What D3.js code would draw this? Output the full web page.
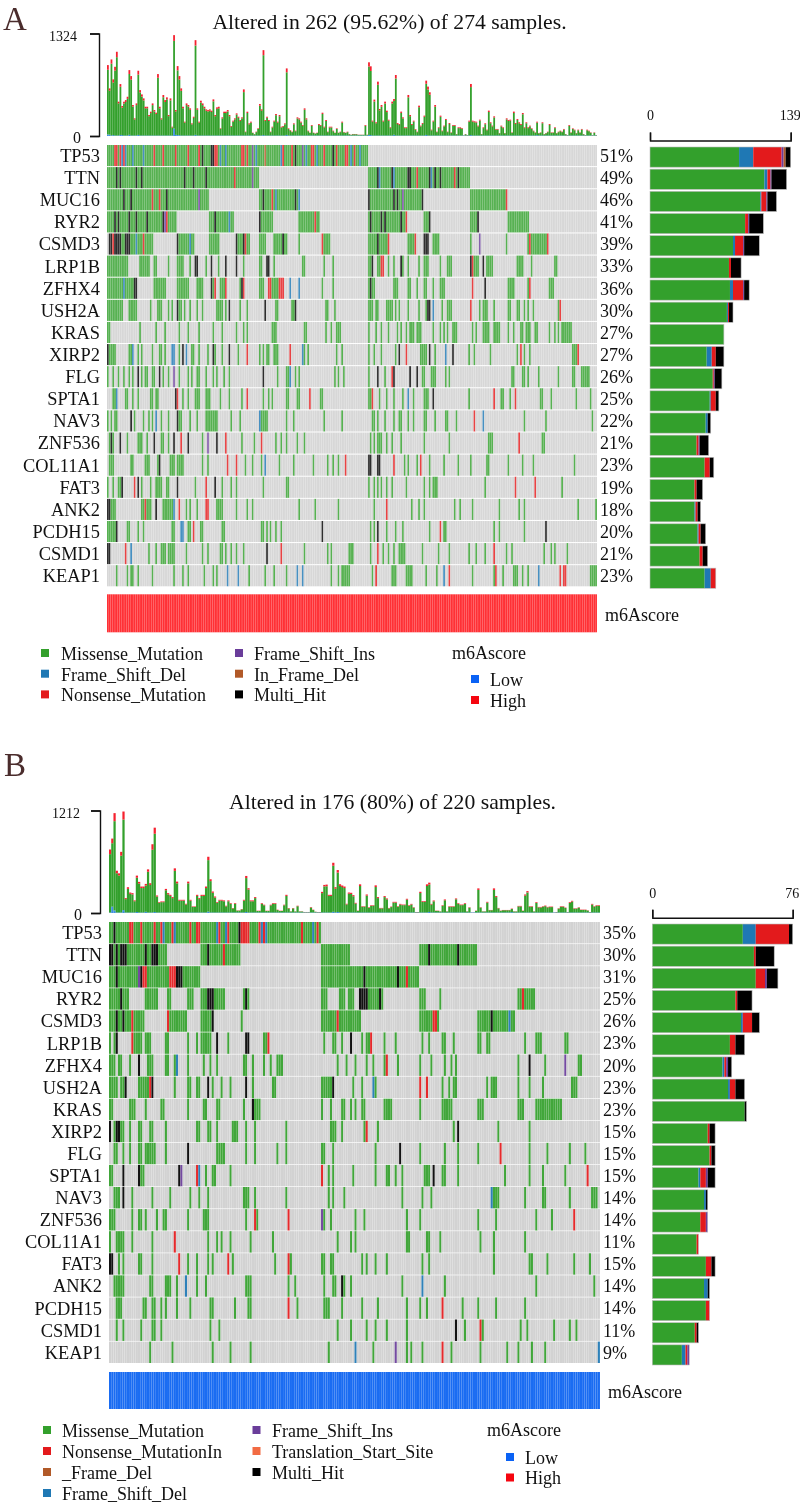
<!DOCTYPE html>
<html><head><meta charset="utf-8">
<script src="https://cdn.jsdelivr.net/npm/d3@7/dist/d3.min.js"></script>
<style>html,body{margin:0;padding:0;background:#fff}svg{display:block;filter:blur(0.45px)}text{font-family:"Liberation Serif",serif;fill:#111}</style>
</head><body><svg id="c" width="800" height="1503"></svg>
<script>
const genes=["TP53","TTN","MUC16","RYR2","CSMD3","LRP1B","ZFHX4","USH2A","KRAS","XIRP2","FLG","SPTA1","NAV3","ZNF536","COL11A1","FAT3","ANK2","PCDH15","CSMD1","KEAP1"];
const typeOrder=["M","D","N","I","F","T","H"];
const typeColors={M:"#33a02c",D:"#1f78b4",N:"#e31a1c",I:"#6a3d9a",F:"#b15928",T:"#f26b43",H:"#000000"};

// Panel A
const pctA=[51,49,46,41,39,33,36,30,27,27,26,25,22,21,23,19,18,20,21,23];
const totalA=[916,615,989,731,894,1088,443,671,387,443,464,507,851,774,400,228,421,843,593,537,
486,378,378,271,314,421,335,301,800,378,228,529,464,499,271,486,120,1303,335,903,
774,615,378,185,421,400,357,163,249,1238,357,185,456,421,378,344,335,344,327,473,
271,370,378,99,241,314,314,335,271,129,198,228,292,249,206,241,602,56,314,163,
185,43,26,56,99,413,344,1109,206,249,206,56,120,198,284,185,271,120,129,163,
873,99,77,56,163,69,241,228,185,142,357,228,69,43,142,43,34,43,155,142,
301,120,206,56,120,120,69,43,99,43,56,185,52,43,56,26,17,26,26,26,
17,17,17,17,142,17,
952,900,198,470,177,702,349,400,198,444,327,210,112,444,478,788,168,155,315,241,
112,112,530,271,155,198,90,56,392,134,168,263,715,638,565,82,198,400,56,112,
263,69,134,220,56,168,47,142,142,26,112,112,103,10,26,13,198,672,198,190,
185,134,211,26,112,164,82,328,177,134,254,91,91,39,134,112,39,228,207,211,
47,315,168,220,177,155,297,112,177,112,134,99,69,47,185,39,47,177,26,39,
56,155,47,47,112,39,56,69,56,91,26,13,142,47,99,82,39,82,47,91,
26,13,82,69,47,13,47,13];
const capA=[60,30,55,40,50,70,22,35,20,24,25,28,50,45,20,14,22,50,30,28,
26,20,20,15,18,22,18,16,48,20,14,28,25,26,15,26,10,75,18,55,
45,32,20,12,22,20,18,12,15,70,18,12,24,22,20,18,18,18,17,25,
15,20,20,8,14,17,17,18,15,10,12,14,16,14,12,14,35,6,17,12,
12,4,3,6,8,22,18,65,12,14,12,6,10,12,15,12,15,10,10,12,
50,8,7,6,12,7,14,14,12,10,18,14,7,4,10,4,4,4,12,10,
16,10,12,6,10,10,7,4,8,4,6,12,5,4,6,3,2,3,3,3,
2,2,2,2,10,2,
55,60,12,25,12,40,18,22,12,24,18,12,10,24,26,45,12,12,17,14,
10,10,30,15,12,12,8,6,20,10,12,15,40,38,32,8,12,22,6,10,
15,7,10,12,6,12,5,10,10,3,10,10,9,2,3,2,12,40,12,12,
12,10,12,3,10,12,8,18,12,10,15,8,8,4,10,10,4,14,12,12,
5,18,12,12,12,12,16,10,12,10,10,8,7,5,12,4,5,12,3,4,
6,12,5,5,10,4,6,7,6,8,3,2,10,5,8,8,4,8,5,8,
3,2,8,7,5,2,5,2];
const baseSamplesA=[0,1,3,7,8,12,17,37,38,39,40,49,87,100,146,147,160,178,203,240];
const baseValuesA=[20,18,12,14,12,15,14,95,15,12,10,15,12,14,14,12,16,14,12,10];
const sideA=[[88,14,28,2,2,0,5],[113,3,3,1,0,0,15],[109,1,5,1,0,0,9],[94,0,3,1,0,0,14],[82,2,8,1,0,0,15],[78,0,2,0,0,0,10],[79,3,10,1,0,0,5],[76,1,1,0,0,0,4],[73,0,0,0,0,0,0],[56,5,4,0,0,0,8],[62,0,1,1,0,0,7],[59,1,5,0,0,0,3],[55,2,0,0,0,0,3],[46,0,2,1,0,0,9],[54,0,5,0,0,0,4],[44,0,2,0,0,0,6],[44,1,2,0,0,0,3],[47,1,2,0,0,0,5],[49,0,3,0,0,0,5],[54,6,5,0,0,0,0]];
const cellsA=[
"M 0-145 N 4-5 7 D 8 N 9 D 10 14 20 N 26 31 38 45 51 H 53 58-59 N 60-61 D 63 66 N 75-76 78 I 81 D 83 F 88 D 97 N 98 103 H 105 I 109 D 111 N 114-115 D 117 N 121 H 126 N 128 133-134 D 136 N 138 D 141",
"M 0-84 146-202 H 5 7 16 19 43 48 55 N 71 I 81 H 151 D 152 H 159 D 160 H 168-169 N 173 H 180 D 181 H 183 186 N 194 H 196",
"M 0-56 85-107 146-176 203-223 H 9 13 N 25 29 H 33 I 51 H 87 N 92 D 94 H 105 D 107 H 146 160 162 I 165 H 176 N 223",
"M 0-38 57-70 85-92 107-118 146-167 177-180 203-207 224-235 H 4 6 12 16 22 31 I 32 N 33 H 60 D 68 H 85 N 116 H 147 153 155 164 N 167 H 180 207",
"M 1-25 39-48 57-62 72-79 85-88 93-100 107 121-124 146-157 168-172 177-179 182-185 203 208 223 235-246 H 1-2 N 3 H 4-7 10-12 D 16 N 20 H 39 D 46 H 72 76 N 77 H 98 N 120 H 151 N 157 172 H 177-179 I 208 N 236 246",
"M 0-11 18-23 26-27 34 39-42 46 49-50 55 58 62 66 72 76 85-86 89-90 93 109-110 121 126 146-148 151-153 157 160 164-165 168 174 177-179 186 190-192 203-207 212-215 229-232 237 250-251 H 49-50 58 66 72 89-90 148 164 203 210 N 153-154 204",
"M 0-16 26-32 39-45 50-53 58-59 63-65 74-75 85-87 90-98 120 126 146-149 160-162 168-169 173 177-178 182 186-188 204 224-227 235-236 247-249 D 9 H 15-16 58 N 60 66 H 75 N 76 90-91 96-98 D 102 107 H 147 N 204 H 211 N 236",
"M 0-8 12-16 24 28-30 34 36 39-41 43 46 50 53 61-64 66 74 78 94-95 103-104 122-123 127 146-148 150-151 156-159 161 163 168 174 178-180 182 187 190-192 208 210-212 216 224-225 229-230 233 235 238 252 H 39 68 88 105 179-180 D 182 N 203 253",
"M 0-1 18 27 32 40 45 51 59 64 72 76 78 92-94 110-111 122 125 128-130 146 150 153 157 162 164 167 169-171 173-175 182 186 188 190 193-195 204 206 210-213 216-219 224 227 231-232 234-236 239-240 247 250 252 254-259",
"M 1-4 12-13 17 19 25 29-30 32 36-37 40 47-48 51 56 60 64 73 85 87 89-90 93-95 109-110 112 128 131 146 149 153 161 175-178 183 202 205 214 229 233 236 260-263 H 0 D 14 36-37 H 42 D 44 H 59 68 N 78 102 D 109 H 163 N 167 H 180 D 189 H 193 N 231 263",
"M 0 3 6 9 12 14 19 21-22 25-26 31 34 40 45 47 50-51 55 59 61 65 68 95 100-102 105 107 127 129 132 146 155 176-177 181-182 183 189 191 226-227 232-233 235 241 252 260-261 265-269 H 17 29 I 37 H 87 D 102 H 151 N 159 H 160 169 173",
"M 3-5 10-11 14 17 24-25 27-28 42 45 49-51 55-57 63 68 75 87 90 92 100-101 106-107 119-120 146-147 152 156 160 165 171 177-179 202 220-221 225 242-243 248 262 270 H 38 N 39 D 5 N 78 113 148 D 168 H 182 N 216 228",
"M 0 2 4-5 13 15 20 23 25 30 34 39-41 46 50 55-61 69 74 85-89 100 104 121 131 148-149 151 155 160 163-164 168 171 177-178 183 189-190 195 233 245 271 H 13 39 D 27 85 N 205 D 210",
"M 1-3 11 17-19 22 30-31 34 53 75 82 94 97 100 106 110 147 149 151-153 156 159 164 177 191 213-215 243-244 H 2 7 26 37 N 41 H 45 I 56 H 61 N 66 86 230",
"M 1-3 13-14 21-23 28-29 35-37 39-42 53 56 77 81 86 96 104 115 123 126 129 160 166 168 173 180 188 196 203 212-213 224 232 238 261 H 29 N 67 72 D 88 N 133 H 146-147 151-152 N 160 175",
"M 0 3 6-8 19 24 27-30 33-34 49 64 69 72 87 100-101 146 149 151 153 156 159 167 177 180 182-184 211 254 H 8 N 15 H 17 39 N 55 H 60 N 228 239",
"M 0-3 4 19-24 27 31-32 33-37 44 46 50 61-64 72 78 81 107 116 129 149 170 174 177 194 197 204 219 230 233 263 273 H 0-1 N 21 H 27 D 37 N 40 55-56 156",
"M 0-4 11-12 17 20 36-37 45-46 52-53 64-65 86-87 89 91 94 97 147 149 151 156 161 165 180 188-189 216 219 233 H 5 D 41-42 N 48 H 120 151 N 186 H 245",
"M 23 27 30-32 34-37 44 53 56 63-64 66 69 72 76 110 123 125 135-137 147 154 157 160 163-166 176 185 191 202 206 211 223 226 244 248 250 257 H 0-1 N 10 D 13 H 89 N 97 151 216",
"M 5 11 13 14 17 25 37 42 45 54 59 61 79 88 93 100 125 129 131-135 148 159-161 167-170 178 184 204 216 221 227-229 232 235 270-273 D 67 73 106 109 N 150 D 188 N 191 217 D 241 N 253 255-256"];

// Panel B
const pctB=[35,30,31,25,26,23,20,23,23,15,15,15,14,14,11,15,14,14,11,9];
const totalB=[751,880,1181,500,469,723,1200,176,305,242,235,149,442,368,313,313,344,516,352,813,
1009,207,129,137,137,285,235,215,188,528,371,156,156,156,109,371,156,78,78,215,
176,215,215,313,665,399,254,195,129,156,156,149,86,149,117,59,117,31,31,47,
156,438,293,149,149,188,27,27,117,98,27,27,98,117,117,39,27,27,98,215,
59,20,59,20,86,20,20,12,12,12,70,39,16,12,12,250,332,336,215,215,
594,305,508,340,325,313,109,242,
239,211,120,28,339,80,80,219,68,92,92,327,188,60,60,200,172,60,76,132,
132,80,108,100,100,168,92,108,68,12,12,251,140,140,339,359,108,148,28,28,
20,92,160,20,80,80,80,172,116,100,100,116,20,68,8,8,28,291,68,20,
20,132,36,36,291,200,60,28,36,36,36,36,52,20,20,84,84,28,219,259,
80,80,20,128,72,72,80,88,72,76,76,8,12,56,80,80,64,12,128,144,
56,56,68,40,40,40,32,12,108,80,92,92];
const capB=[55,55,95,30,25,45,95,12,20,15,15,10,25,20,18,18,20,28,20,65,
72,12,8,9,9,16,14,13,12,30,20,10,10,10,8,20,10,6,6,13,
11,13,13,18,40,22,15,12,9,10,10,10,7,10,8,5,8,3,3,4,
10,25,16,10,10,12,3,3,8,7,3,3,7,8,8,4,3,3,7,13,
5,2,5,2,6,2,2,2,2,2,6,4,2,2,2,15,18,20,12,13,
35,18,30,20,18,18,8,14,
14,13,8,3,20,6,6,14,6,7,7,20,12,5,5,12,10,5,6,9,
9,6,8,7,7,10,7,8,5,2,2,15,9,9,20,22,8,10,3,3,
2,7,10,2,6,6,6,10,8,7,7,8,2,5,1,1,3,18,5,2,
2,9,3,3,18,12,5,3,3,3,3,3,5,2,2,6,6,3,14,16,
6,6,2,9,6,6,6,7,6,6,6,1,2,5,6,6,5,2,9,9,
5,5,5,4,4,4,3,2,8,6,7,7];
const baseSamplesB=[1,2,6,12,16,20,44,61,100,102,143,180];
const baseValuesB=[75,30,35,12,14,12,16,12,14,12,12,10];
const sideB=[[49,7,18,0,0,0,2],[55,0,1,0,0,0,10],[56,0,5,1,0,0,6],[45,0,1,0,0,0,8],[48,1,5,0,0,0,4],[42,0,3,0,0,0,5],[38,1,1,1,0,0,2],[41,1,3,0,0,0,5],[50,0,0,0,0,0,1],[30,0,1,0,0,0,3],[31,0,1,0,0,0,2],[25,1,3,1,0,0,4],[28,1,0,0,0,0,1],[26,0,3,1,0,0,0],[24,0,1,0,0,0,0],[29,0,3,0,0,0,2],[28,2,0,0,0,0,1],[29,0,2,0,0,0,0],[23,0,1,0,0,0,1],[16,2,1,1,0,0,0]];
const cellsB=[
"M 0-94 H 2 N 9-10 14 20 23 D 24 N 28 D 29 N 36 39-40 D 48 N 49 D 52 N 53 H 58 N 59-62 67 D 68 N 69 D 70 N 86 D 91 N 93",
"M 0-25 41-58 95-107 139-164 H 0-1 3 5-7 16 19-21 44 N 51 H 143 156",
"M 0-40 95-138 H 3 I 13 H 14 N 15-16 27-29 H 30-32 114 129 N 133",
"M 0-8 16-21 26-27 35-37 41-46 47-51 60-62 95-97 103-105 107-109 112-122 139-141 148 183-190 H 5 44-46 61 112-115 121 N 185",
"M 0-15 26-34 41-46 59 95-101 103-112 139-147 165-181 H 3 6 N 10 26 H 46 N 102 145-146 H 171 D 179",
"M 0 2-3 10-14 16-18 25-26 35 39 41-45 53 61-62 69-71 96 100-101 104 113 115-116 123 128 140 143 149-150 154 165-166 169-170 186 191-193 204-205 H 3 48 61-62 108 N 10 71 117",
"M 0-2 4-5 9 17-19 25-26 29-30 35 42 45 48 60-61 64 69 72 75-77 102 106 110 115 118 123-124 129 139 144 150 153 155 183 195 210-211 H 13 D 30 N 124 H 188 I 204",
"M 0-3 5-7 13-19 29 35-36 39-40 46 50 54 64 73-74 95-99 109 113 119 149 152 154-155 169 171-173 183 188 194 207-209 H 7 19 44 61 100 N 18 D 118 N 139 142",
"M 0-1 9-11 16 23-24 35 42-43 48-49 60 65-67 95 99 104-105 108 110 113-114 123-126 139 149-153 165-167 183-185 191-202 H 64",
"M 2 5-6 9 13-14 18-19 25 39-40 44-45 48 55-57 61 65 79 99-101 104 114 120 154 174 188 H 0 3-4 156 N 115",
"M 2-3 6 9 13-14 16-20 25 48-51 61 65 75 79 95-96 100 119 139 150 156 165 188 196 206 213 H 35 130 N 175",
"M 0-1 13-15 43 46-47 54 98 100 109 119 124-125 128 131 141-143 149-150 156 177 188 194 204 H 6 13 31 I 32 N 39 D 40 N 95 H 145 N 214",
"M 2-4 10 19 27 36 40 44 60-62 65 79 98 100 105 131 140 144 172-174 186 194-195 206 216-218 H 6 D 171",
"M 0-2 10 13-14 16 21 24-25 35 42-44 61 66 96 99 110 114 133 139 165 173 191 198 N 65 80 I 95 N 208",
"M 0 3-6 10 19 44 48 50 54 63 73 102 108 110 133-134 142-143 148 166 172 186 N 29",
"M 4 6 13-14 19 35 39 44 46 55 74 81 95-96 99-100 113 115 119 124 140 143 172 188-189 196 208 215 H 0-1 N 31 53 80",
"M 2-6 18-19 25-27 30 39 43 61-63 80 83 96 100-101 104-105 108 131 150 191 217 D 34 140 H 104",
"M 3-5 15-16 19-20 23 25 30 36 45-46 56 62-63 84 96-98 104 113 120 133 139 142 158 165 173 186 N 80 149",
"M 3 6 14 19-20 23 45 49 102 108 115 119 124 133 159 167 184 187 199 206 209 H 155 N 166",
"M 18 28 46 54 63 98 118 133 135 140 153 166 178 183 189 195 D 110 I 128 N 149 D 219"];

const legendNamesA=[["Missense_Mutation","M"],["Frame_Shift_Del","D"],["Nonsense_Mutation","N"],["Frame_Shift_Ins","I"],["In_Frame_Del","F"],["Multi_Hit","H"]];
const legendNamesB=[["Missense_Mutation","M"],["Nonsense_MutationIn","N"],["_Frame_Del","F"],["Frame_Shift_Del","D"],["Frame_Shift_Ins","I"],["Translation_Start_Site","T"],["Multi_Hit","H"]];
const scoreLegend=[["Low","#0a62f5"],["High","#f5050f"]];

const svg=d3.select("#c");

function parseCells(s){
  const cells=new Map();let t="M";
  s.split(" ").forEach(tok=>{
    if(/^[A-Z]$/.test(tok)){t=tok;return;}
    const [a,b]=tok.split("-").map(Number);
    d3.range(a,(b===undefined?a:b)+1).forEach(i=>cells.set(i,t));
  });
  return cells;
}

function panel(c){
  const g=svg.append("g");
  g.append("text").attr("x",c.letterX).attr("y",c.letterY).attr("font-size",33).style("fill","#4a2c2c").text(c.letter);
  g.append("text").attr("x",c.titleX).attr("y",c.titleY).attr("text-anchor","middle").attr("font-size",21.7).text(c.title);

  const x=d3.scaleBand().domain(d3.range(c.n)).range([c.x0,c.x1]);
  const step=x.step();
  // top stacked bars
  const y=d3.scaleLinear().domain([0,c.maxTop]).range([c.topBase,c.topTop]);
  const base=new Map(c.baseSamples.map((s,i)=>[s,c.baseValues[i]]));
  const top=g.append("g");
  d3.range(c.n).forEach(i=>{
    const tot=c.total[i],cp=c.cap[i],b=base.get(i)||6;
    [[0,b,"#3f8fe0"],[b,tot-cp,"#33a02c"],[tot-cp,tot,"#f5212f"]].forEach(([a,e,col])=>{
      top.append("rect").attr("x",x(i)).attr("width",step).attr("y",y(Math.min(e,tot))).attr("height",Math.max(0,y(a)-y(e))).attr("fill",col);
    });
  });
  const ax=g.append("g").attr("transform",`translate(${c.axisX},0)`).call(d3.axisLeft(y).tickValues([0,c.maxTop]).tickSize(9).tickFormat(d3.format("d")));
  ax.selectAll("path,line").attr("stroke","#111").attr("stroke-width",1.4);
  ax.selectAll("text").each(function(d){
    d3.select(this).attr("x",d===0?c.zeroRight:c.maxRight).attr("font-size",d===0?16:14).attr("dy",d===0?"0.4em":"0.48em")
      .style("font-family",'"Liberation Serif",serif').style("fill","#111");
  });

  // oncoplot grid
  const ry=d3.scaleBand().domain(genes).range([c.gridTop,c.gridBottom]).paddingInner(c.rowGap);
  const grid=g.append("g").attr("opacity",c.gridOpacity);
  genes.forEach((gene,r)=>{
    const cells=parseCells(c.cells[r]);
    d3.range(c.n).forEach(i=>{
      const t=cells.get(i);
      grid.append("rect").attr("x",x(i)).attr("y",ry(gene)).attr("width",step-c.seam).attr("height",ry.bandwidth()).attr("fill",t?typeColors[t]:"#cfcfcf");
    });
    g.append("text").attr("x",c.x0-7).attr("y",ry(gene)+ry.bandwidth()/2).attr("dy","0.35em").attr("text-anchor","end").attr("font-size",18.4).text(gene);
    g.append("text").attr("x",c.x1+3).attr("y",ry(gene)+ry.bandwidth()/2).attr("dy","0.35em").attr("font-size",18).text(c.pct[r]+"%");
  });

  // side bars
  const sx=d3.scaleLinear().domain([0,c.maxSide]).range([c.sideX0,c.sideX1]);
  const sg=g.append("g");
  const sry=d3.scaleBand().domain(genes).range([c.gridTop+c.sideDy,c.gridBottom+c.sideDy]).paddingInner(0.09);
  genes.forEach((gene,r)=>{
    let acc=0;
    c.side[r].forEach((v,k)=>{
      if(!v)return;
      sg.append("rect").attr("x",sx(acc)).attr("y",sry(gene)).attr("width",sx(acc+v)-sx(acc)).attr("height",sry.bandwidth()).attr("fill",typeColors[typeOrder[k]]);
      acc+=v;
    });
    sg.append("rect").attr("x",sx(0)).attr("y",sry(gene)).attr("width",sx(acc)-sx(0)).attr("height",sry.bandwidth()).attr("fill","none").attr("stroke","#bdbdbd").attr("stroke-width",0.6);
  });
  const sa=g.append("g").attr("transform",`translate(0,${c.sideAxisY})`).call(d3.axisTop(sx).tickValues([0,c.maxSide]).tickSize(8).tickFormat(d3.format("d")));
  sa.selectAll("path,line").attr("stroke","#111").attr("stroke-width",1.4);
  sa.selectAll("text").attr("y",c.sideLabelY-c.sideAxisY).attr("dy","0.35em").attr("font-size",14).attr("text-anchor",d=>"middle")
    .attr("dx",d=>d===0?0:-1).style("font-family",'"Liberation Serif",serif').style("fill","#111");

  // m6A score strip
  const strip=g.append("g");
  d3.range(c.n).forEach(i=>{
    strip.append("rect").attr("x",x(i)).attr("y",c.stripTop).attr("width",step-0.04).attr("height",c.stripH).attr("fill",c.stripColor);
  });
  g.append("text").attr("x",c.x1+8).attr("y",c.stripTop+c.stripH/2+1).attr("dy","0.35em").attr("font-size",18).text("m6Ascore");

  // legend
  c.legend.forEach(([name,t],i)=>{
    const col=i<c.legendSplit?0:1, row=col?i-c.legendSplit:i;
    const ly=c.legTop+row*c.legStep;
    g.append("rect").attr("x",c.legSquareX[col]).attr("y",ly).attr("width",8).attr("height",8).attr("fill",typeColors[t]);
    g.append("text").attr("x",c.legTextX[col]).attr("y",ly+4.5).attr("dy","0.35em").attr("font-size",18).text(name);
  });
  g.append("text").attr("x",c.scoreTitleX).attr("y",c.scoreTitleY).attr("dy","0.35em").attr("font-size",18).text("m6Ascore");
  scoreLegend.forEach(([name,col],i)=>{
    const ly=c.scoreTop+i*c.scoreStep;
    g.append("rect").attr("x",c.scoreSqX).attr("y",ly).attr("width",8).attr("height",8).attr("fill",col);
    g.append("text").attr("x",c.scoreSqX+19).attr("y",ly+4.5).attr("dy","0.35em").attr("font-size",18).text(name);
  });
}

panel({letter:"A",letterX:3,letterY:30,title:"Altered in 262 (95.62%) of 274 samples.",titleX:389.5,titleY:29,
  n:274,x0:107,x1:597,total:totalA,cap:capA,baseSamples:baseSamplesA,baseValues:baseValuesA,maxTop:1324,topBase:136,topTop:33.5,
  axisX:99,zeroRight:-18,maxRight:-22,gridTop:145,gridBottom:586.3,rowGap:0.045,seam:0.04,gridOpacity:0.82,cells:cellsA,pct:pctA,
  side:sideA,maxSide:139,sideX0:650,sideX1:790.7,sideDy:2,sideAxisY:140.5,sideLabelY:115,
  stripTop:594.3,stripH:38,stripColor:"#ff3035",
  legend:legendNamesA,legendSplit:3,legTop:649,legStep:20.7,legSquareX:[41,235],legTextX:[61,254],
  scoreTitleX:452,scoreTitleY:653,scoreTop:675,scoreStep:21,scoreSqX:471});

panel({letter:"B",letterX:4,letterY:776,title:"Altered in 176 (80%) of 220 samples.",titleX:392.5,titleY:809,
  n:220,x0:109,x1:600,total:totalB,cap:capB,baseSamples:baseSamplesB,baseValues:baseValuesB,maxTop:1212,topBase:913,topTop:810.5,
  axisX:100,zeroRight:-18,maxRight:-20,gridTop:922,gridBottom:1363,rowGap:0.03,seam:0.08,gridOpacity:0.93,cells:cellsB,pct:pctB,
  side:sideB,maxSide:76,sideX0:652.3,sideX1:792.7,sideDy:2,sideAxisY:917.7,sideLabelY:893,
  stripTop:1372,stripH:37,stripColor:"#1a6cf2",
  legend:legendNamesB,legendSplit:4,legTop:1426,legStep:21,legSquareX:[43,252.5],legTextX:[62,272],
  scoreTitleX:487,scoreTitleY:1430,scoreTop:1453,scoreStep:20.5,scoreSqX:506});
</script></body></html>
